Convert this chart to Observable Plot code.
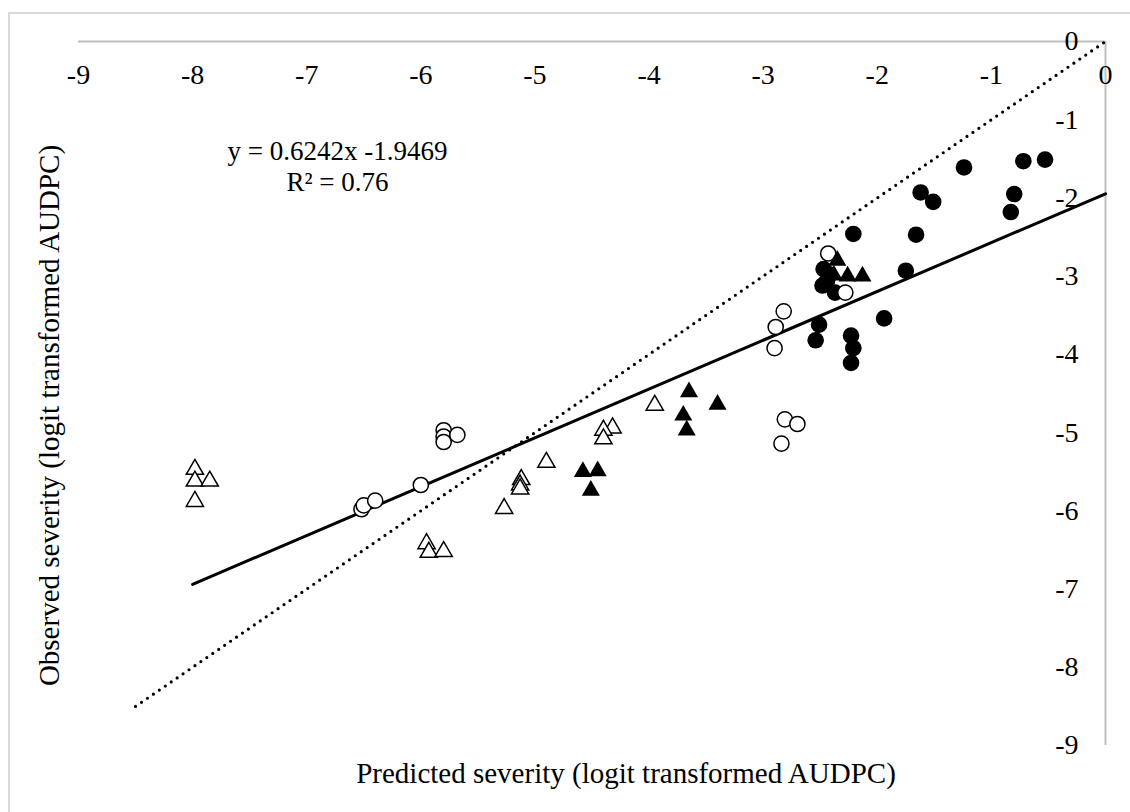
<!DOCTYPE html>
<html><head><meta charset="utf-8">
<script src="https://cdn.jsdelivr.net/npm/d3@7"></script>
<script src="https://cdn.jsdelivr.net/npm/@observablehq/plot@0.6"></script>
<style>
body{margin:0;background:#fff;}
#wrap{position:relative;width:1130px;height:812px;overflow:hidden;font-family:"Liberation Serif","Times New Roman",serif;}
#frame{position:absolute;left:8px;top:12px;width:1200px;height:900px;border-left:2px solid #d9d9d9;border-top:2px solid #d9d9d9;}
#chart{position:absolute;left:0;top:0;}
</style></head><body>
<div id="wrap"><div id="frame"></div><div id="chart"></div></div>
<script>
// Tick values
const xTicks = [-9, -8, -7, -6, -5, -4, -3, -2, -1, 0];
const yTicks = [0, -1, -2, -3, -4, -5, -6, -7, -8, -9];

// Series: filled circles
const filledCircleX = [-0.53, -0.72, -1.24, -1.62, -1.51, -0.80, -0.83, -1.66, -2.21, -1.75, -2.47, -2.48, -2.42, -2.37, -2.44, -1.94, -2.51, -2.54, -2.23, -2.21, -2.23];
const filledCircleY = [-1.51, -1.53, -1.61, -1.93, -2.05, -1.95, -2.18, -2.47, -2.46, -2.93, -2.91, -3.12, -2.98, -3.21, -3.06, -3.54, -3.62, -3.82, -3.76, -3.92, -4.11];

// Series: open circles
const openCircleX = [-2.43, -2.28, -2.82, -2.89, -2.90, -2.81, -2.70, -2.84, -5.80, -5.80, -5.80, -5.68, -6.00, -6.52, -6.50, -6.40];
const openCircleY = [-2.71, -3.21, -3.45, -3.65, -3.92, -4.83, -4.89, -5.14, -4.97, -5.05, -5.12, -5.03, -5.67, -5.98, -5.93, -5.87];

// Series: filled triangles
const filledTriX = [-2.35, -2.38, -2.26, -2.13, -3.65, -3.40, -3.70, -3.67, -4.58, -4.45, -4.51];
const filledTriY = [-2.80, -2.99, -3.00, -3.00, -4.48, -4.64, -4.78, -4.97, -5.50, -5.49, -5.74];

// Series: open triangles
const openTriX = [-7.98, -7.98, -7.85, -7.98, -5.95, -5.93, -5.80, -5.27, -5.12, -5.13, -5.13, -4.90, -4.32, -4.40, -4.40, -3.95];
const openTriY = [-5.47, -5.62, -5.62, -5.88, -6.42, -6.53, -6.52, -5.97, -5.60, -5.67, -5.72, -5.38, -4.94, -4.97, -5.08, -4.65];

// Trend line (y = 0.6242x - 1.9469) endpoints and 1:1 line endpoints
const trendX = [-8, 0];
const trendY = [-6.94, -1.9469];
const identityX = [-8.5, 0];
const identityY = [-8.5, 0];

const eqText = "y = 0.6242x -1.9469\nR\u00b2 = 0.76";
const xTitle = "Predicted severity (logit transformed AUDPC)";
const yTitle = "Observed severity (logit transformed AUDPC)";
const eqPos = {x: -6.73, y: -1.58};

const toRows = (xs, ys) => xs.map((x, i) => ({x, y: ys[i]}));
const fmt = d => String(d);

const chart = Plot.plot({
  width: 1130, height: 812,
  marginLeft: 78, marginRight: 25, marginTop: 41, marginBottom: 67,
  x: {domain: [-9, 0]},
  y: {domain: [-9, 0]},
  style: {fontFamily: "'Liberation Serif','Times New Roman',serif", fontSize: "28px", color: "#000", background: "transparent", overflow: "visible"},
  marks: [
    Plot.ruleY([0], {stroke: "#bfbfbf", strokeWidth: 2}),
    Plot.ruleX([0], {stroke: "#bfbfbf", strokeWidth: 2}),
    Plot.axisX(xTicks, {anchor: "top", tickSize: 0, tickPadding: 0, tickFormat: fmt, lineAnchor: "middle", dy: 34, label: null, fill: "#000", fontSize: 28}),
    Plot.axisY(yTicks, {anchor: "right", tickSize: 0, tickPadding: 0, tickFormat: fmt, textAnchor: "end", dx: -27, label: null, fill: "#000", fontSize: 28}),
    Plot.line(toRows(identityX, identityY), {x: "x", y: "y", stroke: "#000", strokeWidth: 3.2, strokeDasharray: "0,7.2", strokeLinecap: "round"}),
    Plot.line(toRows(trendX, trendY), {x: "x", y: "y", stroke: "#000", strokeWidth: 3}),
    Plot.dot(toRows(filledCircleX, filledCircleY), {x: "x", y: "y", symbol: "circle", r: 8.3, fill: "#000", stroke: "none"}),
    Plot.dot(toRows(openCircleX, openCircleY), {x: "x", y: "y", symbol: "circle", r: 7.6, fill: "#fff", stroke: "#000", strokeWidth: 1.5}),
    Plot.dot(toRows(filledTriX, filledTriY), {x: "x", y: "y", symbol: "triangle", r: 6.7, fill: "#000", stroke: "none"}),
    Plot.dot(toRows(openTriX, openTriY), {x: "x", y: "y", symbol: "triangle", r: 6.4, fill: "#fff", stroke: "#000", strokeWidth: 1.5}),
    Plot.text([eqText], {x: () => eqPos.x, y: () => eqPos.y, textAnchor: "middle", lineAnchor: "middle", lineHeight: 1.15, fill: "#000", fontSize: 27}),
    Plot.text([xTitle], {frameAnchor: "bottom", dy: 37, dx: 34, textAnchor: "middle", fill: "#000", fontSize: 29}),
    Plot.text([yTitle], {frameAnchor: "left", rotate: -90, dx: -29, dy: 22, textAnchor: "middle", fill: "#000", fontSize: 29})
  ]
});
document.getElementById("chart").appendChild(chart);
</script>
</body></html>
